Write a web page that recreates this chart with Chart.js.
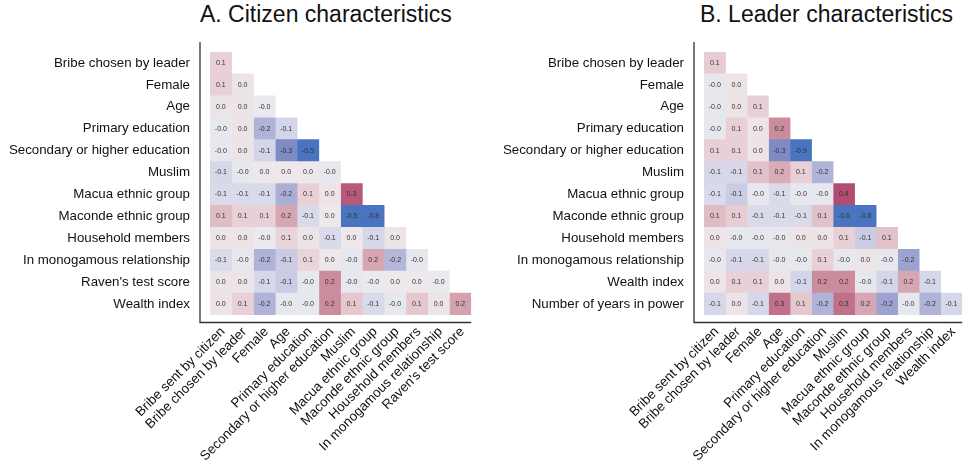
<!DOCTYPE html>
<html>
<head>
<meta charset="utf-8">
<script src="https://cdn.jsdelivr.net/npm/chart.js@4.4.1/dist/chart.umd.min.js"></script>
<style>
  html, body { margin: 0; padding: 0; background: #fff; width: 963px; height: 469px; overflow: hidden; }
  .panel { position: absolute; top: 0; }
  .title { position: absolute; top: 1px; font-family: "Liberation Sans", Arial, sans-serif; font-size: 23px; color: #111; white-space: nowrap; }
</style>
</head>
<body>
<div class="title" style="left: 200px;">A. Citizen characteristics</div>
<div class="title" style="left: 700px;">B. Leader characteristics</div>
<canvas id="citizenChart" class="panel" style="left:0px" width="481" height="469"></canvas>
<canvas id="leaderChart" class="panel" style="left:482px" width="490" height="469"></canvas>
<script>
// Correlations, lower triangle (row i has i+1 cells)
const citizenRows = ['Bribe chosen by leader', 'Female', 'Age', 'Primary education', 'Secondary or higher education',
  'Muslim', 'Macua ethnic group', 'Maconde ethnic group', 'Household members', 'In monogamous relationship',
  "Raven's test score", 'Wealth index'];
const citizenCols = ['Bribe sent by citizen', 'Bribe chosen by leader', 'Female', 'Age', 'Primary education',
  'Secondary or higher education', 'Muslim', 'Macua ethnic group', 'Maconde ethnic group', 'Household members',
  'In monogamous relationship', "Raven's test score"];
const citizenCorr = [
  [0.09],
  [0.09, 0.03],
  [0.03, 0.03, -0.02],
  [-0.03, 0.03, -0.18, -0.10],
  [-0.03, 0.03, -0.10, -0.29, -0.52],
  [-0.09, -0.03, 0.02, 0.02, 0.02, -0.03],
  [-0.08, -0.08, -0.08, -0.19, 0.09, 0.03, 0.34],
  [0.13, 0.09, 0.09, 0.17, -0.08, 0.02, -0.54, -0.79],
  [0.03, 0.03, -0.02, 0.08, 0.03, -0.08, 0.02, -0.09, 0.03],
  [-0.08, -0.03, -0.18, -0.12, 0.08, 0.02, -0.03, 0.17, -0.17, -0.03],
  [0.03, 0.03, -0.09, -0.12, -0.03, 0.22, -0.03, -0.02, 0.02, 0.02, -0.02],
  [0.03, 0.09, -0.18, -0.03, -0.03, 0.22, 0.11, -0.08, -0.03, 0.11, 0.03, 0.18]
];

const leaderRows = ['Bribe chosen by leader', 'Female', 'Age', 'Primary education', 'Secondary or higher education',
  'Muslim', 'Macua ethnic group', 'Maconde ethnic group', 'Household members', 'In monogamous relationship',
  'Wealth index', 'Number of years in power'];
const leaderCols = ['Bribe sent by citizen', 'Bribe chosen by leader', 'Female', 'Age', 'Primary education',
  'Secondary or higher education', 'Muslim', 'Macua ethnic group', 'Maconde ethnic group', 'Household members',
  'In monogamous relationship', 'Wealth index'];
const leaderCorr = [
  [0.10],
  [-0.03, 0.03],
  [-0.03, 0.03, 0.09],
  [-0.03, 0.09, 0.03, 0.22],
  [0.09, 0.09, 0.03, -0.29, -0.89],
  [-0.09, -0.09, 0.12, 0.16, 0.09, -0.18],
  [-0.08, -0.12, -0.03, -0.08, -0.03, -0.03, 0.38],
  [0.13, 0.10, -0.08, -0.08, -0.08, 0.12, -0.60, -0.80],
  [0.03, -0.03, -0.03, -0.03, 0.03, 0.03, 0.09, -0.12, 0.12],
  [-0.03, -0.09, -0.09, -0.03, -0.03, 0.09, -0.03, 0.03, -0.03, -0.22],
  [0.03, 0.09, 0.09, 0.03, -0.10, 0.22, 0.22, -0.03, -0.10, 0.17, -0.09],
  [-0.09, 0.03, -0.09, 0.28, 0.11, -0.18, 0.28, 0.17, -0.22, -0.03, -0.18, -0.09]
];

// diverging colour scale, blue (negative) to crimson (positive)
const scaleStops = [-0.5, -0.3, -0.2, -0.1, 0, 0.1, 0.2, 0.3, 0.4];
const scaleColors = ['#4a74c0', '#7b88c2', '#a6aad3', '#d3d5e8', '#f0eef1', '#e7cdd3', '#cf97a5', '#bd6682', '#ae476e'];

function hexToRgb(h) {
  return [parseInt(h.slice(1, 3), 16), parseInt(h.slice(3, 5), 16), parseInt(h.slice(5, 7), 16)];
}

function corrColor(v) {
  if (v <= scaleStops[0]) return scaleColors[0];
  if (v >= scaleStops[scaleStops.length - 1]) return scaleColors[scaleColors.length - 1];
  for (let i = 0; i < scaleStops.length - 1; i++) {
    if (v <= scaleStops[i + 1]) {
      const t = (v - scaleStops[i]) / (scaleStops[i + 1] - scaleStops[i]);
      const a = hexToRgb(scaleColors[i]);
      const b = hexToRgb(scaleColors[i + 1]);
      const c = a.map((x, k) => Math.round(x + (b[k] - x) * t));
      return `rgb(${c[0]}, ${c[1]}, ${c[2]})`;
    }
  }
}

const FONT = '"Liberation Sans", Arial, Helvetica, sans-serif';

// writes the value into each cell and draws the left/bottom frame
const cellLabels = {
  id: 'cellLabels',
  afterDatasetsDraw(chart, args, opts) {
    const { ctx, chartArea } = chart;
    ctx.save();
    ctx.font = `7px ${FONT}`;
    ctx.fillStyle = '#333';
    ctx.textAlign = 'center';
    ctx.textBaseline = 'middle';
    chart.data.datasets.forEach((ds, di) => {
      const meta = chart.getDatasetMeta(di);
      meta.data.forEach((bar, ri) => {
        if (ds.data[ri] == null) return;
        const v = opts.matrix[ri][di];
        ctx.fillText(v.toFixed(1), (bar.x + bar.base) / 2, bar.y);
      });
    });
    ctx.strokeStyle = '#333';
    ctx.lineWidth = 1.3;
    ctx.beginPath();
    ctx.moveTo(chartArea.left - 10, chartArea.top - 10);
    ctx.lineTo(chartArea.left - 10, chartArea.bottom + 7.5);
    ctx.lineTo(chartArea.right, chartArea.bottom + 7.5);
    ctx.stroke();
    ctx.restore();
  }
};

function drawHeatmap(canvasId, rows, cols, matrix, yWidth, padRight) {
  const datasets = cols.map((col, c) => ({
    label: col,
    data: rows.map((r, i) => (i >= c ? [c - 0.5, c + 0.5] : null)),
    backgroundColor: (ctx) => {
      const row = matrix[ctx.dataIndex];
      return row && row[c] != null ? corrColor(row[c]) : 'transparent';
    },
    borderWidth: 0,
    barPercentage: 1,
    categoryPercentage: 1,
    grouped: false
  }));

  return new Chart(document.getElementById(canvasId), {
    type: 'bar',
    data: { labels: rows, datasets },
    options: {
      indexAxis: 'y',
      responsive: false,
      animation: false,
      layout: { padding: { top: 52, right: padRight, left: 0, bottom: 0 } },
      plugins: {
        legend: { display: false },
        tooltip: { enabled: false },
        cellLabels: { matrix }
      },
      scales: {
        x: {
          type: 'linear',
          min: -0.5,
          max: cols.length - 0.5,
          grid: { display: false, drawTicks: false },
          border: { display: false },
          afterBuildTicks: (scale) => { scale.ticks = cols.map((_, i) => ({ value: i })); },
          afterFit: (scale) => { scale.height = 154; },
          ticks: {
            autoSkip: false,
            minRotation: 45,
            maxRotation: 45,
            padding: 9,
            labelOffset: 2,
            color: '#111',
            font: { family: FONT, size: 13.4 },
            callback: (val) => cols[val]
          }
        },
        y: {
          grid: { display: false, drawTicks: false },
          border: { display: false },
          afterFit: (scale) => { scale.width = yWidth; },
          ticks: {
            autoSkip: false,
            padding: 20,
            color: '#111',
            font: { family: FONT, size: 13.3 }
          }
        }
      }
    },
    plugins: [cellLabels]
  });
}

drawHeatmap('citizenChart', citizenRows, citizenCols, citizenCorr, 210, 8);
drawHeatmap('leaderChart', leaderRows, leaderCols, leaderCorr, 222, 5);
</script>
</body>
</html>
